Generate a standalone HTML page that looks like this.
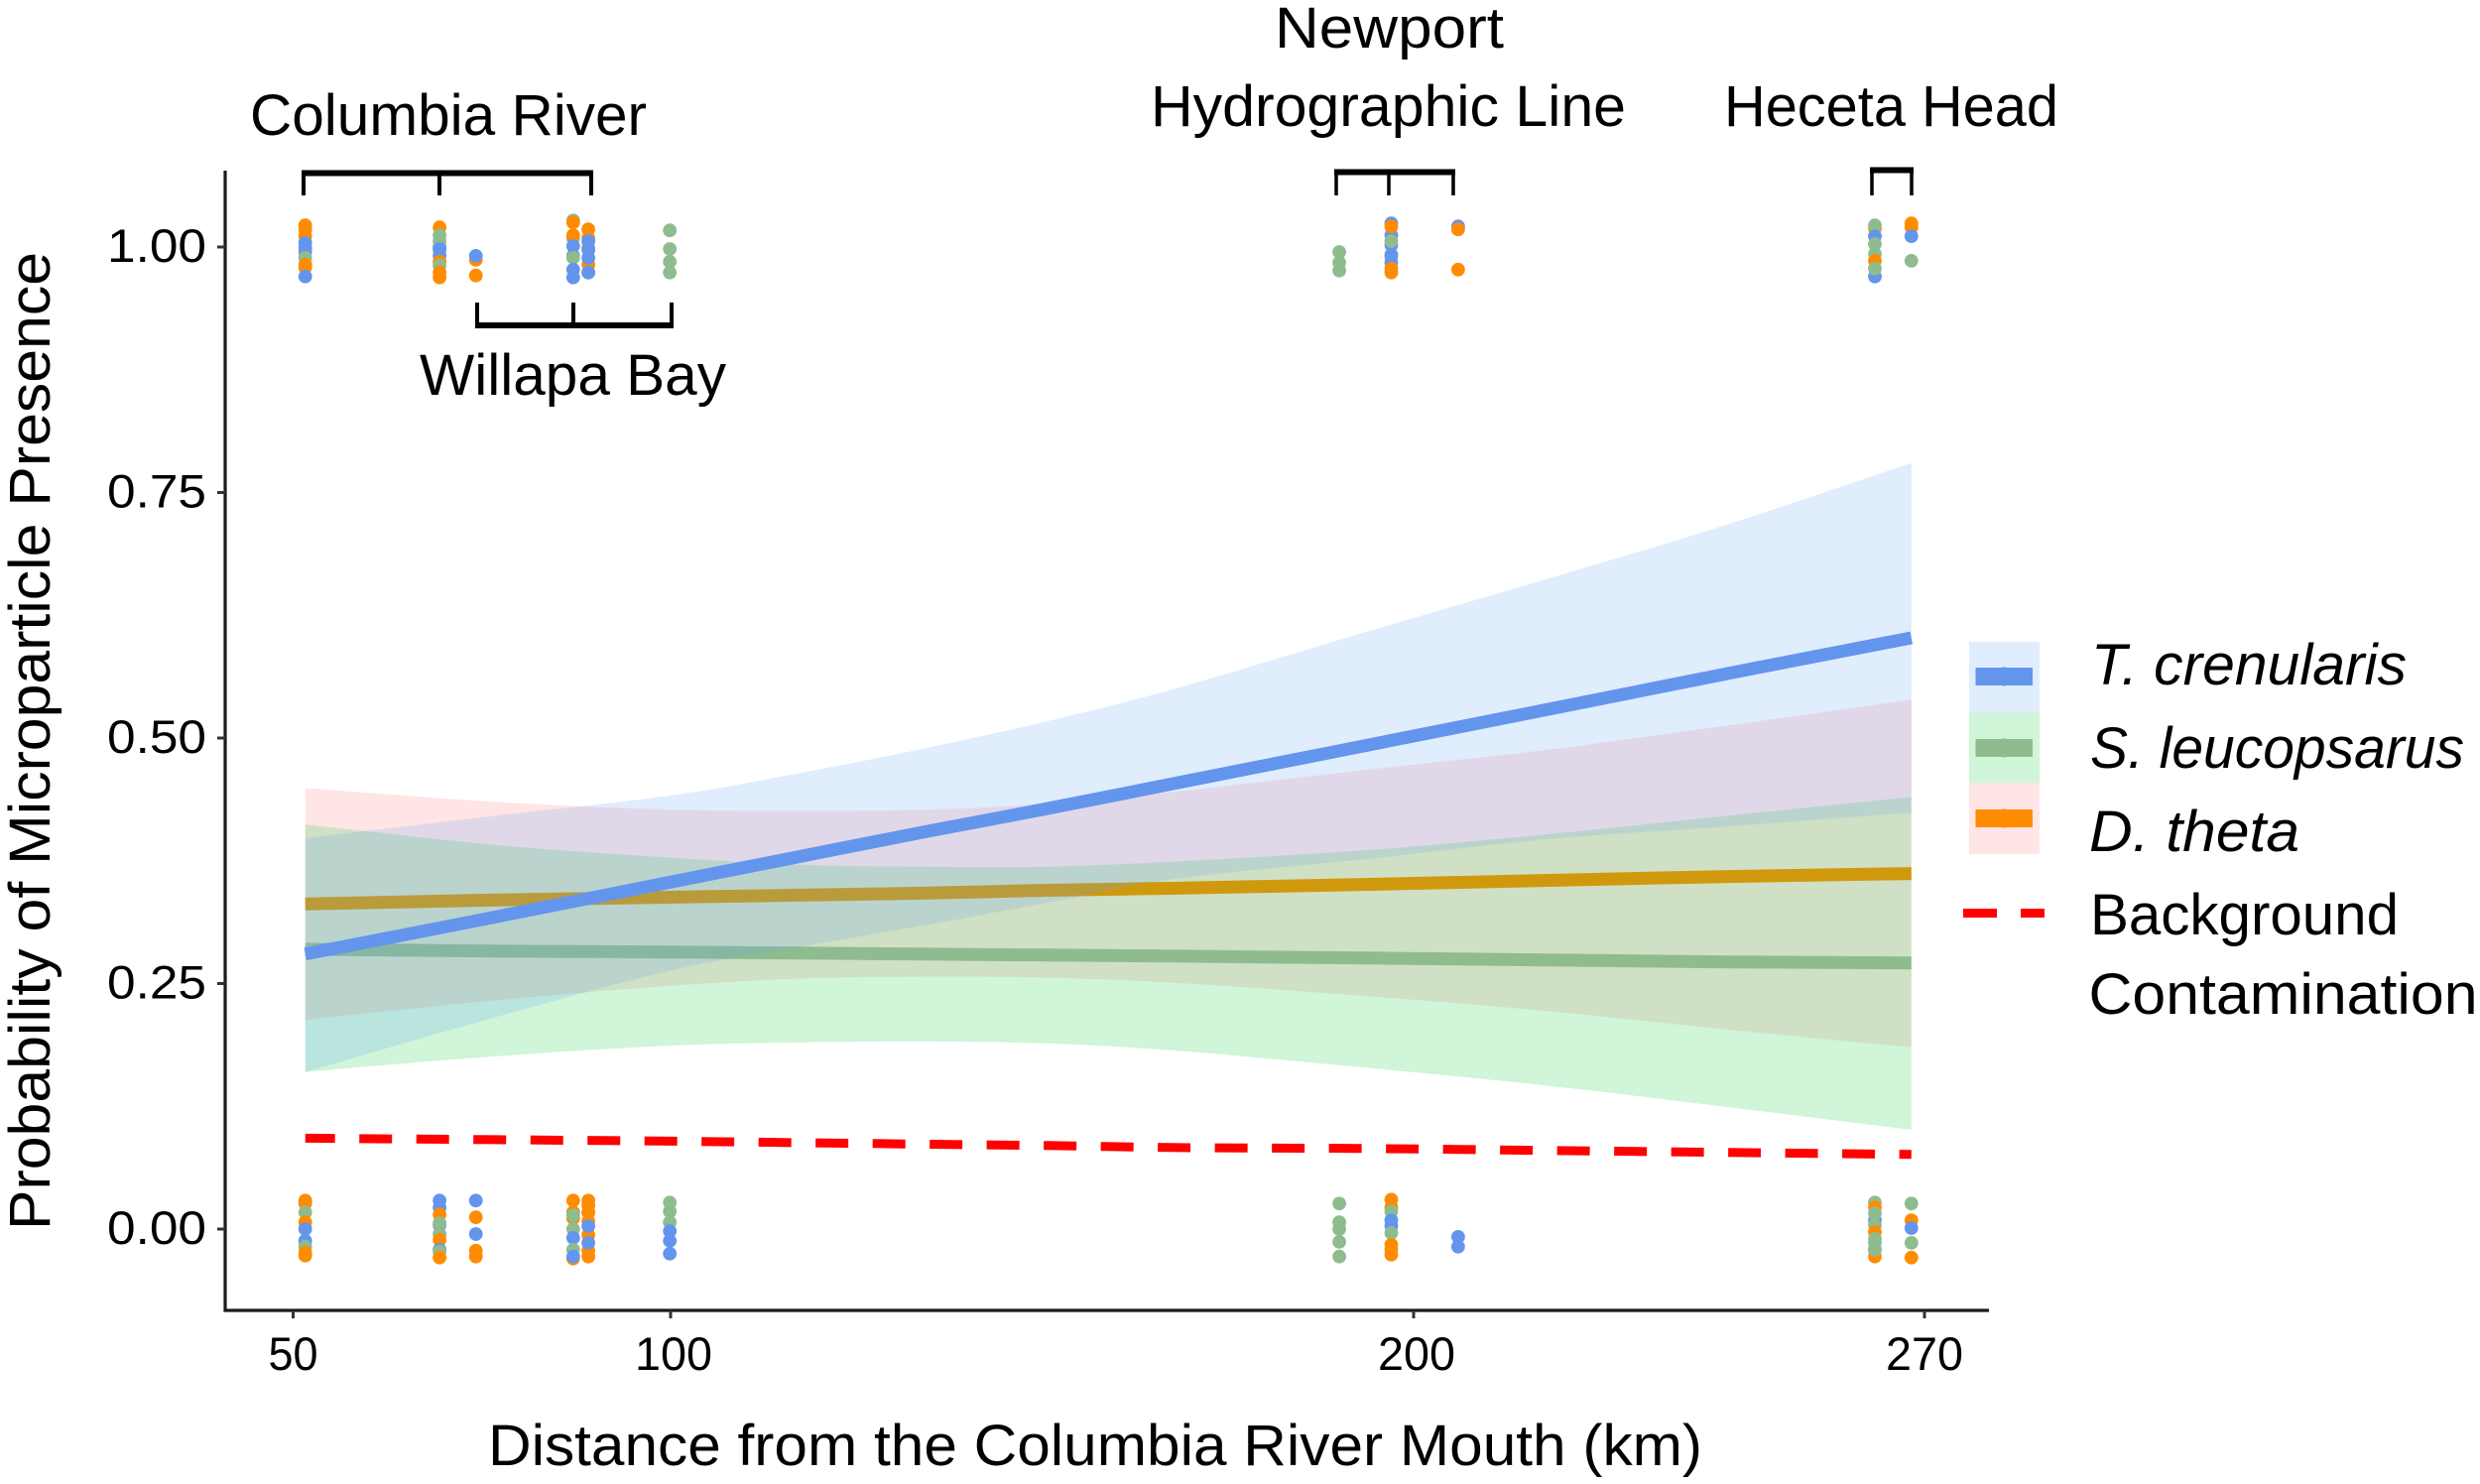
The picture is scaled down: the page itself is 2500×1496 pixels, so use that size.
<!DOCTYPE html>
<html lang="en">
<head>
<meta charset="utf-8">
<title>Probability of Microparticle Presence</title>
<style>
html,body{margin:0;padding:0;background:#fff;}
svg{display:block;}
text{font-family:"Liberation Sans",sans-serif;fill:#000;}
</style>
</head>
<body>
<svg id="chart" xmlns="http://www.w3.org/2000/svg" width="2500" height="1496" viewBox="0 0 2500 1496">
  <rect x="0" y="0" width="2500" height="1496" fill="#ffffff"/>
  <g id="ribbons-and-lines"></g>
  <g id="dots"></g>
  <g id="axes">
    <line x1="227" y1="172" x2="227" y2="1322.5" stroke="#1a1a1a" stroke-width="3.2"/>
    <line x1="225.5" y1="1321" x2="2005" y2="1321" stroke="#1a1a1a" stroke-width="3.2"/>
  </g>
  <text x="492" y="1477" font-size="58" textLength="1224" lengthAdjust="spacingAndGlyphs">Distance from the Columbia River Mouth (km)</text>
  <text transform="translate(50,1240) rotate(-90)" x="0" y="0" font-size="58" textLength="986" lengthAdjust="spacingAndGlyphs">Probability of Microparticle Presence</text>

  <g>
    <text x="252" y="136" font-size="58" textLength="400" lengthAdjust="spacingAndGlyphs">Columbia River</text>
    <path d="M306 174V197M443 174V197M596 174V197" fill="none" stroke="#000" stroke-width="4"/>
    <rect x="304" y="171.500" width="294" height="6" fill="#000"/>
  </g>
  <g>
    <text x="423" y="398" font-size="58" textLength="309" lengthAdjust="spacingAndGlyphs">Willapa Bay</text>
    <path d="M481 305V328M578 305V328M677 305V328" fill="none" stroke="#000" stroke-width="4"/>
    <rect x="479" y="325" width="200" height="6" fill="#000"/>
  </g>
  <g>
    <text x="1285" y="48" font-size="58" textLength="231" lengthAdjust="spacingAndGlyphs">Newport</text>
    <text x="1160" y="127" font-size="58" textLength="479" lengthAdjust="spacingAndGlyphs">Hydrographic Line</text>
    <path d="M1347 174V197M1400 174V197M1465 174V197" fill="none" stroke="#000" stroke-width="3.500"/>
    <rect x="1345" y="170.500" width="122" height="6" fill="#000"/>
  </g>
  <g>
    <text x="1738" y="127" font-size="58" textLength="337" lengthAdjust="spacingAndGlyphs">Heceta Head</text>
    <path d="M1887 172V197M1927 172V197" fill="none" stroke="#000" stroke-width="3.500"/>
    <rect x="1885" y="168.500" width="44" height="6" fill="#000"/>
  </g>

  <g id="legend">
    <g>
      <rect x="1985" y="647" width="71" height="71" fill="#e0edfd"/>
      <rect x="1991.5" y="673" width="57.500" height="18" fill="#6495ED"/>
      <circle cx="2020" cy="682" r="9.500" fill="#6495ED"/>
      <text x="2108" y="690" font-size="58" font-style="italic" textLength="318" lengthAdjust="spacingAndGlyphs">T. crenularis</text>
    </g>
    <g>
      <rect x="1985" y="718" width="71" height="71" fill="#d0f5d9"/>
      <rect x="1991.5" y="745" width="57.500" height="18" fill="#8FBC8F"/>
      <circle cx="2020" cy="754" r="9.500" fill="#8FBC8F"/>
      <text x="2107" y="774" font-size="58" font-style="italic" textLength="377" lengthAdjust="spacingAndGlyphs">S. leucopsarus</text>
    </g>
    <g>
      <rect x="1985" y="789" width="71" height="72" fill="#ffe5e5"/>
      <rect x="1991.5" y="816" width="57.500" height="18" fill="#FF8C00"/>
      <circle cx="2020" cy="825" r="9.500" fill="#FF8C00"/>
      <text x="2106" y="858" font-size="58" font-style="italic" textLength="212" lengthAdjust="spacingAndGlyphs">D. theta</text>
    </g>
    <g>
      <rect x="1979" y="916" width="34" height="9" fill="#ff0000"/>
      <rect x="2037" y="916" width="24" height="9" fill="#ff0000"/>
      <text x="2107" y="942" font-size="58" textLength="311" lengthAdjust="spacingAndGlyphs">Background</text>
      <text x="2105.5" y="1022" font-size="58" textLength="392" lengthAdjust="spacingAndGlyphs">Contamination</text>
    </g>
  </g>
</svg>
<script>
// Distance samples (km) at which curves were read
const curveKm = [51.6, 76.9, 100.5, 117.2, 133.9, 150.6, 167.3, 194, 218.3, 243.2, 268.2];

// Fitted probabilities
const tCrenularisFit = [.280, .318, .354, .379, .404, .428, .453, .493, .529, .566, .602];
const sLeucopsarusFit = [.285, .283, .282, .281, .280, .279, .278, .276, .274, .272, .271];
const dThetaFit = [.331, .335, .338, .340, .342, .345, .347, .351, .355, .359, .362];
const backgroundFit = [.0925, .091, .0895, .088, .0865, .085, .083, .082, .080, .078, .076];

// Confidence bands
const tCrenularisUpper = [.398, .421, .442, .464, .489, .517, .549, .609, .662, .718, .780];
const tCrenularisLower = [.160, .216, .264, .287, .309, .332, .356, .377, .397, .410, .424];
const sLeucopsarusUpper = [.412, .391, .378, .371, .369, .369, .374, .386, .402, .421, .440];
const sLeucopsarusLower = [.160, .176, .187, .190, .191, .189, .182, .164, .146, .124, .101];
const dThetaUpper = [.449, .435, .427, .426, .427, .433, .445, .468, .488, .513, .539];
const dThetaLower = [.213, .233, .248, .255, .257, .256, .251, .237, .222, .203, .185];

// Axis ticks
const xTickKm = [50, 100, 200, 270];
const xTickLabels = ["50", "100", "200", "270"];
const yTickValues = [1, 0.75, 0.5, 0.25, 0];
const yTickLabels = ["1.00", "0.75", "0.50", "0.25", "0.00"];

// Jittered observations: species, km, plotted value
const presentDots = [
["S",51.6,1.022],["D",51.6,1.022],["D",51.6,1.018],["D",51.6,1.011],["T",51.6,1.004],["T",51.6,.999],["T",51.6,.995],["S",51.6,.989],["D",51.6,.982],["D",51.6,.979],["T",51.6,.970],
["D",69.4,1.020],["D",69.4,.997],["T",69.4,1.000],["S",69.4,1.012],["S",69.4,1.006],["T",69.4,.998],["T",69.4,.991],["D",69.4,.985],["S",69.4,.981],["D",69.4,.974],["D",69.4,.969],
["D",74.2,.987],["T",74.2,.991],["D",74.2,.971],
["S",87.1,1.027],["D",87.1,1.025],["S",87.1,1.009],["D",87.1,1.012],["T",87.1,1.001],["T",87.1,.991],["S",87.1,.989],["T",87.1,.977],["T",87.1,.969],
["D",89.1,1.018],["D",89.1,1.009],["D",89.1,.999],["D",89.1,.982],["D",89.1,.974],["T",89.1,1.006],["T",89.1,.997],["T",89.1,.989],["T",89.1,.974],
["S",99.9,1.017],["S",99.9,.998],["S",99.9,.985],["S",99.9,.974],
["S",190,.995],["S",190,.984],["S",190,.976],
["T",197,1.024],["T",197,1.012],["D",197,1.021],["T",197,1.002],["S",197,1.006],["S",197,.990],["T",197,.992],["T",197,.984],["D",197,.978],["D",197,.974],
["T",206.1,1.021],["D",206.1,1.018],["D",206.1,.977],
["D",263.2,1.019],["S",263.2,1.022],["T",263.2,1.011],["S",263.2,1.003],["S",263.2,.993],["D",263.2,.986],["T",263.2,.970],["S",263.2,.978],
["D",268.2,1.024],["D",268.2,1.020],["T",268.2,1.011],["S",268.2,.986]
];
const absentDots = [
["D",51.6,.029],["D",51.6,.026],["S",51.6,.017],["D",51.6,.007],["S",51.6,-.012],["T",51.6,.000],["T",51.6,-.012],["S",51.6,-.018],["D",51.6,-.024],["D",51.6,-.027],
["T",69.4,.029],["T",69.4,.022],["D",69.4,.015],["T",69.4,.004],["S",69.4,.006],["S",69.4,-.005],["D",69.4,-.011],["T",69.4,-.021],["S",69.4,-.023],["D",69.4,-.029],
["T",74.2,.029],["D",74.2,.012],["T",74.2,-.005],["D",74.2,-.022],["D",74.2,-.028],
["D",87.1,.029],["T",87.1,.017],["D",87.1,.017],["D",87.1,.011],["S",87.1,.014],["S",87.1,.000],["T",87.1,-.009],["S",87.1,-.021],["D",87.1,-.030],["T",87.1,-.028],
["D",89.1,.029],["D",89.1,.024],["T",89.1,.017],["D",89.1,.017],["D",89.1,.008],["D",89.1,-.006],["D",89.1,-.022],["T",89.1,.003],["T",89.1,-.014],["D",89.1,-.028],
["S",99.9,.027],["S",99.9,.018],["S",99.9,.007],["T",99.9,-.002],["T",99.9,-.012],["T",99.9,-.025],
["S",190,.026],["S",190,.007],["S",190,.000],["S",190,-.013],["S",190,-.028],
["D",197,.030],["D",197,.022],["S",197,.018],["T",197,.009],["T",197,.003],["S",197,-.004],["D",197,-.016],["D",197,-.021],["D",197,-.026],
["T",206.1,-.008],["T",206.1,-.018],
["S",263.2,.027],["D",263.2,.022],["T",263.2,.009],["S",263.2,.016],["S",263.2,.004],["D",263.2,-.003],["T",263.2,-.021],["D",263.2,-.028],["S",263.2,-.010],["S",263.2,-.014],["S",263.2,-.021],
["S",268.2,.026],["D",268.2,.009],["T",268.2,.001],["S",268.2,-.014],["D",268.2,-.029]
];

const speciesColor = {T: "#6495ED", S: "#8FBC8F", D: "#FF8C00"};
const speciesName = {T: "t-crenularis", S: "s-leucopsarus", D: "d-theta"};

const SVG_NS = "http://www.w3.org/2000/svg";
const xAnchorKm = xTickKm;
const xAnchorPx = [295.5, 676, 1425, 1940];

function xScale(km) {
  let i = 0;
  while (i < xAnchorKm.length - 2 && km > xAnchorKm[i + 1]) i++;
  const t = (km - xAnchorKm[i]) / (xAnchorKm[i + 1] - xAnchorKm[i]);
  return xAnchorPx[i] + t * (xAnchorPx[i + 1] - xAnchorPx[i]);
}
function yScale(p) {
  return 1239 - 990 * p;
}
function make(tag, attrs, parent) {
  const el = document.createElementNS(SVG_NS, tag);
  for (const k in attrs) el.setAttribute(k, attrs[k]);
  parent.appendChild(el);
  return el;
}
// Smooth spline segments through points, starting from pts[0]
function splineSegs(pts) {
  const slope = pts.map((p, i) => {
    const a = pts[Math.max(i - 1, 0)];
    const b = pts[Math.min(i + 1, pts.length - 1)];
    return (b[1] - a[1]) / (b[0] - a[0]);
  });
  let s = "";
  for (let i = 0; i < pts.length - 1; i++) {
    const dx = pts[i + 1][0] - pts[i][0];
    const c1x = pts[i][0] + dx / 3;
    const c1y = pts[i][1] + slope[i] * dx / 3;
    const c2x = pts[i + 1][0] - dx / 3;
    const c2y = pts[i + 1][1] - slope[i + 1] * dx / 3;
    s += "C" + c1x.toFixed(1) + " " + c1y.toFixed(1) + " " + c2x.toFixed(1) + " " + c2y.toFixed(1) + " " + pts[i + 1][0].toFixed(1) + " " + pts[i + 1][1].toFixed(1);
  }
  return s;
}
function toPoints(values) {
  return values.map((v, i) => [xScale(curveKm[i]), yScale(v)]);
}
function linePath(values) {
  const pts = toPoints(values);
  return "M" + pts[0][0].toFixed(1) + " " + pts[0][1].toFixed(1) + splineSegs(pts);
}
function reverseSegs(values) {
  const pts = toPoints(values);
  const rev = pts.slice().reverse().map(p => [-p[0], p[1]]);
  // build with mirrored x so slopes stay valid, then mirror back
  return splineSegs(rev).replace(/(C|\s)?(-?\d+\.\d)\s(-?\d+\.\d)/g, (m, lead, x, y) => (lead === "C" ? "C" : " ") + (-parseFloat(x)).toFixed(1) + " " + y);
}
function ribbonPath(upper, lower) {
  const lowPts = toPoints(lower);
  const last = lowPts[lowPts.length - 1];
  return linePath(upper) + "L" + last[0].toFixed(1) + " " + last[1].toFixed(1) + reverseSegs(lower) + "Z";
}

const seriesGroup = document.getElementById("ribbons-and-lines");
const ribbonAlpha = 0.2;

// D. theta
const dRibbon = make("path", {d: ribbonPath(dThetaUpper, dThetaLower), fill: "#ff7d7d", "fill-opacity": ribbonAlpha}, seriesGroup);


const dLine = make("path", {d: linePath(dThetaFit), fill: "none", stroke: "#FF8C00", "stroke-width": 13}, seriesGroup);



// S. leucopsarus
const sRibbon = make("path", {d: ribbonPath(sLeucopsarusUpper, sLeucopsarusLower), fill: "#14cd41", "fill-opacity": ribbonAlpha}, seriesGroup);


const sLine = make("path", {d: linePath(sLeucopsarusFit), fill: "none", stroke: "#8FBC8F", "stroke-width": 13}, seriesGroup);



// T. crenularis
const tRibbon = make("path", {d: ribbonPath(tCrenularisUpper, tCrenularisLower), fill: "#64a5f5", "fill-opacity": ribbonAlpha}, seriesGroup);


const tLine = make("path", {d: linePath(tCrenularisFit), fill: "none", stroke: "#6495ED", "stroke-width": 13}, seriesGroup);



// Background contamination
const bgLine = make("path", {d: linePath(backgroundFit), fill: "none", stroke: "#ff0000", "stroke-width": 9, "stroke-dasharray": "33 24.5", "stroke-dashoffset": 3}, seriesGroup);



// Observation dots
const dotGroup = document.getElementById("dots");
presentDots.concat(absentDots).forEach(rec => {
  const dot = make("circle", {cx: xScale(rec[1]).toFixed(1), cy: yScale(rec[2]).toFixed(1), r: 6.9, fill: speciesColor[rec[0]]}, dotGroup);
  
  
});

// Axis ticks and labels
const axesGroup = document.getElementById("axes");
xTickKm.forEach((km, i) => {
  const px = xScale(km);
  const tick = make("line", {x1: px, x2: px, y1: 1321, y2: 1329, stroke: "#333", "stroke-width": 3}, axesGroup);
  
  
  const len = xTickLabels[i].length === 2 ? 50 : 78;
  const label = make("text", {x: px + (i === 0 || i === 3 ? 0 : 3), y: 1381, "font-size": 47, "text-anchor": "middle", textLength: len, lengthAdjust: "spacingAndGlyphs"}, axesGroup);
  
  
  label.textContent = xTickLabels[i];
});
yTickValues.forEach((v, i) => {
  const py = yScale(v);
  const tick = make("line", {x1: 219, x2: 227, y1: py, y2: py, stroke: "#333", "stroke-width": 3}, axesGroup);
  
  
  const label = make("text", {x: 108, y: py + 15, "font-size": 47, textLength: 100, lengthAdjust: "spacingAndGlyphs"}, axesGroup);
  
  
  label.textContent = yTickLabels[i];
});
</script>
</body>
</html>
